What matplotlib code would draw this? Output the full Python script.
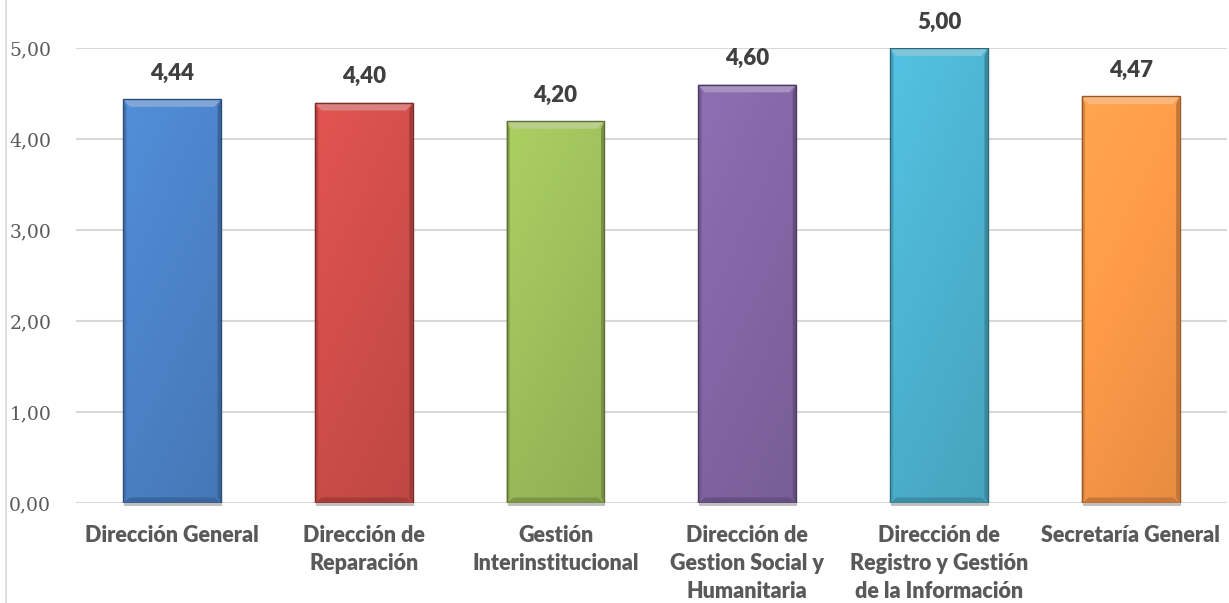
import matplotlib.pyplot as plt
import matplotlib.colors as mcolors
import numpy as np

# Data
categories = ['Dirección General', 'Dirección de\nReparación', 'Gestión\nInterinstitucional',
              'Dirección de\nGestion Social y\nHumanitaria', 'Dirección de\nRegistro y Gestión\nde la Información',
              'Secretaría General']
values = [4.44, 4.40, 4.20, 4.60, 5.00, 4.47]
value_labels = ['4,44', '4,40', '4,20', '4,60', '5,00', '4,47']
tick_values = [0, 1, 2, 3, 4, 5]
tick_labels = ['0,00', '1,00', '2,00', '3,00', '4,00', '5,00']
bar_colors = ['#4a80c4', '#cc4c49', '#9bbb59', '#8064a2', '#4bafcc', '#f79646']

fig = plt.figure(figsize=(12.29, 6.03), dpi=100)
ax = fig.add_axes([0.062, 0.166, 0.936, 0.754])

x = np.arange(len(categories))
bars = ax.bar(x, values, width=0.51, color='none', zorder=3)

ax.set_xlim(-0.5, len(categories) - 0.5)
ax.set_ylim(0, 5)

# gradient / bevel fill for each bar
nx, ny = 120, 400
bx, by = 0.035, 0.085      # bevel size in data units (horizontal, vertical)
for rect, col in zip(bars, bar_colors):
    base = np.array(mcolors.to_rgb(col))
    x0, y0 = rect.get_x(), rect.get_y()
    w, h = rect.get_width(), rect.get_height()
    x1, y1 = x0 + w, y0 + h
    u = np.linspace(0, 1, nx)
    fx = 1.03 - 0.06 * u
    v = np.linspace(1, 0, ny)  # top to bottom
    fy = 0.96 + 0.12 * v
    img = base[None, None, :] * fy[:, None, None] * fx[None, :, None]
    img = np.clip(img, 0, 1)
    im = ax.imshow(img, extent=[x0, x1, y0, y1], aspect='auto',
                   zorder=3, interpolation='bilinear')
    im.set_clip_path(rect)
    light = np.clip(base + (1 - base) * 0.3, 0, 1)
    dark = base * 0.8
    # bevel facets
    ax.add_patch(plt.Polygon([(x0, y1), (x1, y1), (x1 - bx, y1 - by), (x0 + bx, y1 - by)],
                             closed=True, color=light, lw=0, zorder=4))
    ax.add_patch(plt.Polygon([(x0, y0), (x1, y0), (x1 - bx, y0 + by * 0.7), (x0 + bx, y0 + by * 0.7)],
                             closed=True, color=dark, lw=0, zorder=4))
    ax.add_patch(plt.Polygon([(x0, y0), (x0 + bx * 0.5, y0 + by * 0.7), (x0 + bx * 0.5, y1 - by), (x0, y1)],
                             closed=True, color=base * 0.9, lw=0, zorder=4))
    ax.add_patch(plt.Polygon([(x1, y0), (x1 - bx * 0.5, y0 + by * 0.7), (x1 - bx * 0.5, y1 - by), (x1, y1)],
                             closed=True, color=base * 0.78, lw=0, zorder=4))
    edge = tuple(base * 0.6)
    ax.add_patch(plt.Rectangle((x0, y0), w, h, fill=False, edgecolor=edge,
                               linewidth=1.0, zorder=5))
    # soft shadow under the bar
    ax.add_patch(plt.Rectangle((x0 + 0.005, y0 - 0.03), w, 0.03, color='#bfbfbf',
                               lw=0, zorder=2, clip_on=False))

# value labels
for xi, v, lab in zip(x, values, value_labels):
    ax.text(xi, v + 0.17, lab, ha='center', va='bottom', fontsize=16,
            fontweight='heavy', color='#404040', family='Lato', clip_on=False)

ax.set_yticks(tick_values)
ax.set_yticklabels(tick_labels, family='DejaVu Serif', fontsize=13.5, color='#595959')
ax.set_xticks(x)
ax.set_xticklabels(categories, family='Lato', fontweight='heavy', fontsize=15.5,
                   color='#595959', linespacing=1.42)
ax.tick_params(axis='both', length=0)
ax.tick_params(axis='x', pad=16)
ax.tick_params(axis='y', pad=18)

ax.grid(axis='y', color='#d9d9d9', linewidth=1.5, zorder=0)
ax.set_axisbelow(True)
for s in ax.spines.values():
    s.set_visible(False)

# chart border on the left
fig.add_artist(plt.Line2D([0.005, 0.005], [0.0, 1.0], color='#d9d9d9', linewidth=1.2))

fig.savefig('out.png', dpi=100)
